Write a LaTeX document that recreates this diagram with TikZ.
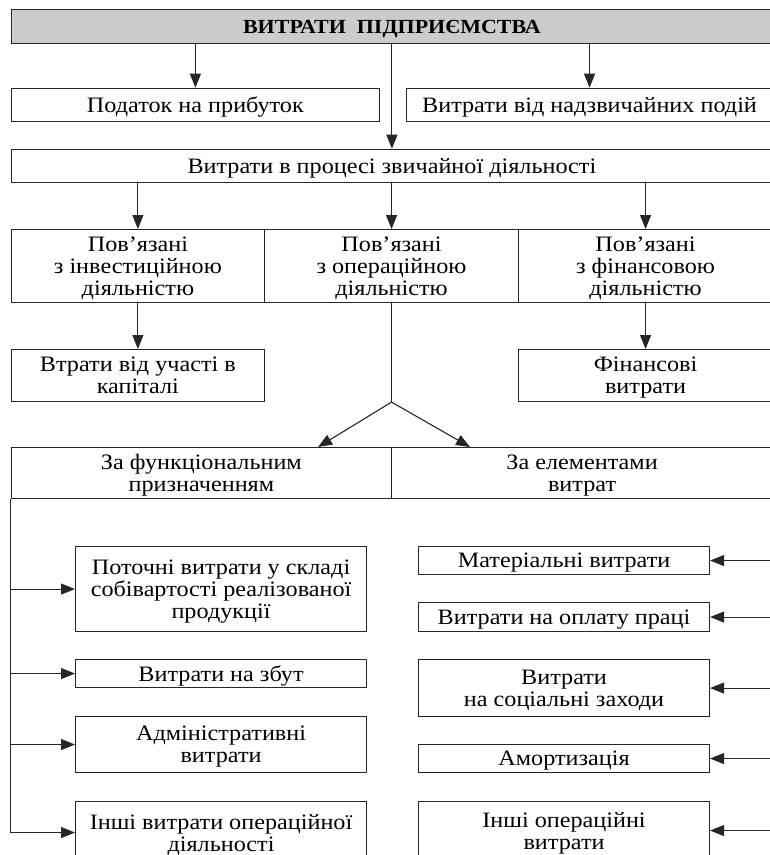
\documentclass[tikz,border=0pt]{standalone}
\usepackage{fontspec}
\setmainfont{Liberation Serif}[FakeStretch=1.1]
\usetikzlibrary{positioning,arrows.meta,calc}

\begin{document}
\begin{tikzpicture}[x=1pt, y=-1pt, line width=1.1pt,
  every node/.style={font=\fontsize{22}{22}\selectfont},
  cbox/.style={draw=black!85, inner sep=0pt, align=center, anchor=north west,
               text depth=-1.5pt},
  arr/.style={draw=black!85, -{Triangle[length=14pt,width=11pt]}}]
  \useasboundingbox (0,0) rectangle (770,855);
  \clip (0,0) rectangle (770,855);

  % top levels
  \node[cbox, fill=black!20, minimum width=761.3, minimum height=33.4,
        font=\fontsize{20}{20}\selectfont\bfseries] (total) at (10.7,9.3)
    {ВИТРАТИ\ \ ПІДПРИЄМСТВА};
  \node[cbox, minimum width=368.3, minimum height=33.3] (tax) at (10.7,87.7)
    {Податок на прибуток};
  \node[cbox, minimum width=366, minimum height=33.3] (extra) at (406,87.7)
    {Витрати від надзвичайних подій};
  \node[cbox, minimum width=761.3, minimum height=33] (usual) at (10.7,148.7)
    {Витрати в процесі звичайної діяльності};

  % kinds of activity
  \node[cbox, minimum width=253.3, minimum height=73] (invest) at (10.7,229)
    {Пов’язані\\з інвестиційною\\діяльністю};
  \node[cbox, minimum width=254, minimum height=73] (oper) at (264,229)
    {Пов’язані\\з операційною\\діяльністю};
  \node[cbox, minimum width=254, minimum height=73] (fin) at (518,229)
    {Пов’язані\\з фінансовою\\діяльністю};
  \node[cbox, minimum width=253.3, minimum height=52] (loss) at (10.7,349)
    {Втрати від участі в\\капіталі};
  \node[cbox, minimum width=254, minimum height=52] (finexp) at (518,349)
    {Фінансові\\витрати};

  % two groupings
  \node[cbox, minimum width=380.3, minimum height=51] (func) at (10.7,447)
    {За функціональним\\призначенням};
  \node[cbox, minimum width=381, minimum height=51] (elem) at (391,447)
    {За елементами\\витрат};

  % by function
  \node[cbox, minimum width=291, minimum height=85] (cost) at (75,546)
    {Поточні витрати у складі\\собівартості реалізованої\\продукції};
  \node[cbox, minimum width=291, minimum height=28] (sale) at (75,659)
    {Витрати на збут};
  \node[cbox, minimum width=291, minimum height=56] (admin) at (75,716)
    {Адміністративні\\витрати};
  \node[cbox, minimum width=291, minimum height=62] (otherop) at (75,801)
    {Інші витрати операційної\\діяльності};

  % by element
  \node[cbox, minimum width=291, minimum height=28] (mat) at (418,546)
    {Матеріальні витрати};
  \node[cbox, minimum width=291, minimum height=29] (wage) at (418,602)
    {Витрати на оплату праці};
  \node[cbox, minimum width=291, minimum height=57] (social) at (418,659)
    {Витрати\\на соціальні заходи};
  \node[cbox, minimum width=291, minimum height=28] (amort) at (418,744)
    {Амортизація};
  \node[cbox, minimum width=291, minimum height=58] (otherel) at (418,801)
    {Інші операційні\\витрати};

  % connectors
  \draw[arr] (total.south -| tax.north) -- (tax.north);
  \draw[arr] (total.south -| extra.north) -- (extra.north);
  \draw[arr] (total) -- (usual);
  \foreach \n in {invest,oper,fin}
    \draw[arr] (usual.south -| \n.north) -- (\n.north);
  \draw[arr] (invest) -- (loss);
  \draw[arr] (fin) -- (finexp);

  \coordinate (fork) at ($(oper.south)+(0,99)$);
  \draw[draw=black!85] (oper.south) -- (fork);
  \draw[arr] (fork) -- ([xshift=-74pt]func.north east);
  \draw[arr] (fork) -- ([xshift=79pt]elem.north west);

  \coordinate (spine) at (func.south west);
  \coordinate (rim) at (772,0);
  \draw[draw=black!85] (spine) -- (spine |- otherop.west);
  \foreach \n in {cost,sale,admin,otherop}
    \draw[arr] (spine |- \n.west) -- (\n.west);
  \foreach \n in {mat,wage,social,amort,otherel}
    \draw[arr] (rim |- \n.east) -- (\n.east);
\end{tikzpicture}
\end{document}
